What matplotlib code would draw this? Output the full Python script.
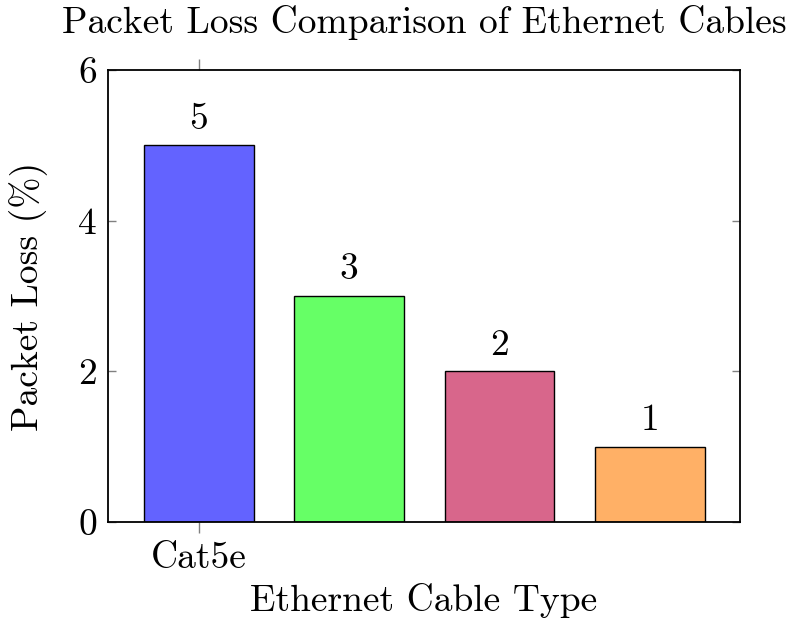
import matplotlib
matplotlib.use("Agg")
import matplotlib.pyplot as plt

plt.rcParams['font.family'] = ['cmr10', 'DejaVu Serif']
plt.rcParams['axes.formatter.use_mathtext'] = True

# Data
bar_positions = [0, 1, 2, 3]
packet_loss = [5, 3, 2, 1]
bar_colors = ["#6363FF", "#66FF66", "#D8668B", "#FFB066"]
xtick_positions = [0]
xtick_labels = ["Cat5e"]
ytick_values = [0, 2, 4, 6]

FS = 27

fig = plt.figure(figsize=(7.92, 6.23), dpi=100)
ax = fig.add_axes([108/792, 1 - 522/623, (740-108)/792, (522-70)/623])

bars = ax.bar(bar_positions, packet_loss, width=0.73, color=bar_colors,
              edgecolor="black", linewidth=1.0, zorder=2)
for x, v in zip(bar_positions, packet_loss):
    ax.annotate(f"{v}", (x, v), xytext=(0, 7), textcoords="offset points",
                ha="center", va="bottom", fontsize=FS)

ax.set_xlim(-0.605, 3.6)
ax.set_ylim(0, 6)
ax.set_xticks(xtick_positions)
ax.set_xticklabels(xtick_labels)
ax.set_yticks(ytick_values)
ax.set_yticklabels([str(v) for v in ytick_values])

ax.tick_params(axis='y', direction='in', left=True, right=True, length=6,
               color='#808080', labelsize=FS, width=1, pad=8)
ax.tick_params(axis='x', direction='out', top=True, bottom=True, length=8,
               color='#808080', labelsize=FS, width=1, pad=6)
for s in ax.spines.values():
    s.set_linewidth(1.3)

ax.set_ylabel("Packet Loss (%)", fontsize=FS, labelpad=22)
ax.set_xlabel("Ethernet Cable Type", fontsize=FS, labelpad=6)
ax.set_title("Packet Loss Comparison of Ethernet Cables", fontsize=FS, pad=27)

fig.savefig("out.png", dpi=100)
